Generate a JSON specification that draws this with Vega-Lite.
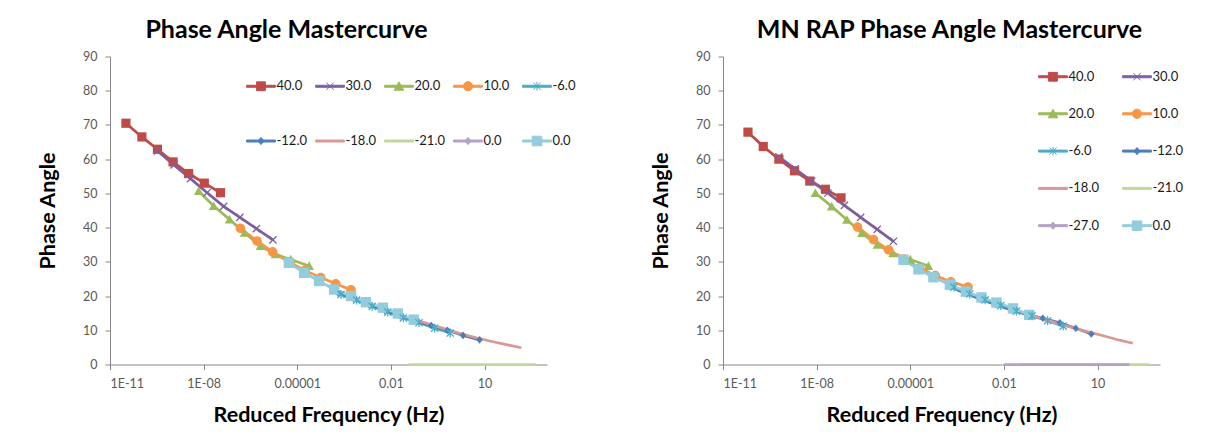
{
  "$schema": "https://vega.github.io/schema/vega-lite/v6.json",
  "padding": {"left": 37, "top": 17.5, "right": 0, "bottom": 0},
  "background": "white",
  "config": {
    "font": "Lato",
    "view": {"stroke": null},
    "axis": {"grid": false, "domainColor": "#868686", "tickColor": "#868686", "tickSize": 5, "labelColor": "#595959", "labelFontSize": 12.5, "labelFont": "Lato", "titleFont": "Lato", "titleFontSize": 21.5, "titleFontWeight": "bold", "titleColor": "#000000"},
    "title": {"font": "Lato", "fontSize": 25, "fontWeight": "bold", "color": "#000000"},
    "legend": {
      "title": null, "padding": 0, "symbolSize": 64, "symbolStrokeWidth": 1, "symbolOpacity": 1, "direction": "horizontal",
      "symbolOffset": 8.5, "labelOffset": 9, "gridAlign": "all", "labelFont": "Lato", "labelFontSize": 13, "labelColor": "#1a1a1a",
      "symbolType": {"expr": "datum.value==='40.0'?'M-3.6,-0.25H3.6V0.25H-3.6Z M-1.1,-1.1H1.1V1.1H-1.1Z':datum.value==='30.0'?'M-3.6,-0.25H3.6V0.25H-3.6Z M-0.9,-0.9L0.9,0.9M-0.9,0.9L0.9,-0.9':datum.value==='20.0'?'M-3.6,-0.25H3.6V0.25H-3.6Z M0,-1.1L1.2,1L-1.2,1Z':datum.value==='10.0'?'M-3.6,-0.25H3.6V0.25H-3.6Z M-1.15,0A1.15,1.15,0,1,1,1.15,0A1.15,1.15,0,1,1,-1.15,0Z':datum.value==='-6.0'?'M-3.6,-0.25H3.6V0.25H-3.6Z M-0.9,-0.9L0.9,0.9M-0.9,0.9L0.9,-0.9M0,-1.1L0,1.1':(datum.value==='-12.0'||datum.value==='-27.0'||datum.value==='0.0a')?'M-3.6,-0.25H3.6V0.25H-3.6Z M0,-0.9L0.75,0L0,0.9L-0.75,0Z':(datum.value==='0.0'||datum.value==='0.0b')?'M-3.6,-0.25H3.6V0.25H-3.6Z M-1.2,-1.2H1.2V1.2H-1.2Z':'M-3.6,-0.25H3.6V0.25H-3.6Z'"},
      "symbolStrokeColor": {"expr": "datum.value==='40.0'?'#BE4B48':datum.value==='30.0'?'#7D5FA0':datum.value==='20.0'?'#9BBB59':datum.value==='10.0'?'#F79646':datum.value==='-6.0'?'#4BACC6':datum.value==='-12.0'?'#4A7EBB':datum.value==='-18.0'?'#D99795':datum.value==='-21.0'?'#C3D69B':(datum.value==='-27.0'||datum.value==='0.0a')?'#B3A2C7':'#93CDDD'"},
      "symbolFillColor": {"expr": "datum.value==='40.0'?'#BE4B48':datum.value==='30.0'?'#7D5FA0':datum.value==='20.0'?'#9BBB59':datum.value==='10.0'?'#F79646':datum.value==='-6.0'?'#4BACC6':datum.value==='-12.0'?'#4A7EBB':datum.value==='-18.0'?'#D99795':datum.value==='-21.0'?'#C3D69B':(datum.value==='-27.0'||datum.value==='0.0a')?'#B3A2C7':'#93CDDD'"}
    }
  },
  "datasets": {
    "left": [
      {"s": "40.0", "f": 3.24e-11, "a": 70.5}, {"s": "40.0", "f": 1.05e-10, "a": 66.5}, {"s": "40.0", "f": 3.31e-10, "a": 62.9}, {"s": "40.0", "f": 1.05e-9, "a": 59.2}, {"s": "40.0", "f": 3.31e-9, "a": 55.8}, {"s": "40.0", "f": 1.05e-8, "a": 53.0}, {"s": "40.0", "f": 3.47e-8, "a": 50.2},
      {"s": "30.0", "f": 3.31e-10, "a": 62.4}, {"s": "30.0", "f": 1.12e-9, "a": 58.3}, {"s": "30.0", "f": 3.8e-9, "a": 54.3}, {"s": "30.0", "f": 1.29e-8, "a": 50.2}, {"s": "30.0", "f": 4.37e-8, "a": 46.2}, {"s": "30.0", "f": 1.45e-7, "a": 43.0}, {"s": "30.0", "f": 4.9e-7, "a": 39.7}, {"s": "30.0", "f": 1.66e-6, "a": 36.4},
      {"s": "20.0", "f": 6.92e-9, "a": 50.7}, {"s": "20.0", "f": 2.09e-8, "a": 46.3}, {"s": "20.0", "f": 6.76e-8, "a": 42.4}, {"s": "20.0", "f": 2.04e-7, "a": 38.5}, {"s": "20.0", "f": 6.61e-7, "a": 34.6}, {"s": "20.0", "f": 2.0e-6, "a": 32.2}, {"s": "20.0", "f": 6.17e-6, "a": 30.7}, {"s": "20.0", "f": 2.4e-5, "a": 28.8},
      {"s": "10.0", "f": 1.51e-7, "a": 39.8}, {"s": "10.0", "f": 5.13e-7, "a": 36.1}, {"s": "10.0", "f": 1.62e-6, "a": 32.9}, {"s": "10.0", "f": 5.25e-6, "a": 30.0}, {"s": "10.0", "f": 1.74e-5, "a": 27.5}, {"s": "10.0", "f": 5.62e-5, "a": 25.4}, {"s": "10.0", "f": 1.7e-4, "a": 23.6}, {"s": "10.0", "f": 5.25e-4, "a": 21.8},
      {"s": "-6.0", "f": 2.51e-4, "a": 20.5}, {"s": "-6.0", "f": 7.94e-4, "a": 18.8}, {"s": "-6.0", "f": 2.51e-3, "a": 17.0}, {"s": "-6.0", "f": 7.94e-3, "a": 15.3}, {"s": "-6.0", "f": 0.0251, "a": 13.6}, {"s": "-6.0", "f": 0.0794, "a": 12.2}, {"s": "-6.0", "f": 0.251, "a": 10.6}, {"s": "-6.0", "f": 0.794, "a": 9.2},
      {"s": "-12.0", "f": 2.0e-4, "a": 21.0}, {"s": "-12.0", "f": 6.31e-4, "a": 19.3}, {"s": "-12.0", "f": 2.0e-3, "a": 17.5}, {"s": "-12.0", "f": 6.31e-3, "a": 15.8}, {"s": "-12.0", "f": 0.02, "a": 14.2}, {"s": "-12.0", "f": 0.0617, "a": 12.8}, {"s": "-12.0", "f": 0.195, "a": 11.4}, {"s": "-12.0", "f": 0.646, "a": 10.0}, {"s": "-12.0", "f": 2.04, "a": 8.5}, {"s": "-12.0", "f": 6.92, "a": 7.2},
      {"s": "-18.0", "f": 0.0501, "a": 13.3}, {"s": "-18.0", "f": 0.158, "a": 11.9}, {"s": "-18.0", "f": 0.501, "a": 10.5}, {"s": "-18.0", "f": 1.58, "a": 9.1}, {"s": "-18.0", "f": 5.01, "a": 7.9}, {"s": "-18.0", "f": 15.8, "a": 6.8}, {"s": "-18.0", "f": 50.1, "a": 5.8}, {"s": "-18.0", "f": 151, "a": 4.9},
      {"s": "-21.0", "f": 0.037, "a": 0}, {"s": "-21.0", "f": 1, "a": 0}, {"s": "-21.0", "f": 437, "a": 0},
      {"s": "0.0b", "f": 5.37e-6, "a": 29.7}, {"s": "0.0b", "f": 1.66e-5, "a": 26.8}, {"s": "0.0b", "f": 5.01e-5, "a": 24.4}, {"s": "0.0b", "f": 1.51e-4, "a": 21.9}, {"s": "0.0b", "f": 5.25e-4, "a": 20.0}, {"s": "0.0b", "f": 1.58e-3, "a": 18.2}, {"s": "0.0b", "f": 5.5e-3, "a": 16.6}, {"s": "0.0b", "f": 0.0166, "a": 14.9}, {"s": "0.0b", "f": 0.0537, "a": 13.1}
    ],
    "right": [
      {"s": "40.0", "f": 6.31e-11, "a": 67.9}, {"s": "40.0", "f": 1.95e-10, "a": 63.7}, {"s": "40.0", "f": 6.17e-10, "a": 60.0}, {"s": "40.0", "f": 1.95e-9, "a": 56.6}, {"s": "40.0", "f": 6.03e-9, "a": 53.6}, {"s": "40.0", "f": 1.91e-8, "a": 51.2}, {"s": "40.0", "f": 6.03e-8, "a": 48.7},
      {"s": "30.0", "f": 6.17e-10, "a": 60.7}, {"s": "30.0", "f": 2.04e-9, "a": 57.2}, {"s": "30.0", "f": 6.92e-9, "a": 53.6}, {"s": "30.0", "f": 2.29e-8, "a": 50.1}, {"s": "30.0", "f": 7.76e-8, "a": 46.5}, {"s": "30.0", "f": 2.57e-7, "a": 43.0}, {"s": "30.0", "f": 8.71e-7, "a": 39.5}, {"s": "30.0", "f": 2.88e-6, "a": 36.0},
      {"s": "20.0", "f": 9.12e-9, "a": 50.1}, {"s": "20.0", "f": 3.02e-8, "a": 46.2}, {"s": "20.0", "f": 9.33e-8, "a": 42.3}, {"s": "20.0", "f": 2.82e-7, "a": 38.4}, {"s": "20.0", "f": 8.91e-7, "a": 35.0}, {"s": "20.0", "f": 2.82e-6, "a": 32.5}, {"s": "20.0", "f": 1.0e-5, "a": 30.7}, {"s": "20.0", "f": 3.8e-5, "a": 28.8},
      {"s": "10.0", "f": 2.04e-7, "a": 40.2}, {"s": "10.0", "f": 6.61e-7, "a": 36.5}, {"s": "10.0", "f": 2.0e-6, "a": 33.5}, {"s": "10.0", "f": 6.31e-6, "a": 30.8}, {"s": "10.0", "f": 2.0e-5, "a": 28.2}, {"s": "10.0", "f": 6.31e-5, "a": 26.0}, {"s": "10.0", "f": 2.0e-4, "a": 24.2}, {"s": "10.0", "f": 7.08e-4, "a": 22.6},
      {"s": "-6.0", "f": 2.51e-4, "a": 22.6}, {"s": "-6.0", "f": 7.94e-4, "a": 20.6}, {"s": "-6.0", "f": 2.51e-3, "a": 18.9}, {"s": "-6.0", "f": 7.94e-3, "a": 17.2}, {"s": "-6.0", "f": 0.0251, "a": 15.6}, {"s": "-6.0", "f": 0.0794, "a": 14.2}, {"s": "-6.0", "f": 0.251, "a": 12.8}, {"s": "-6.0", "f": 0.794, "a": 11.2},
      {"s": "-12.0", "f": 1.78e-4, "a": 22.8}, {"s": "-12.0", "f": 5.62e-4, "a": 20.8}, {"s": "-12.0", "f": 1.78e-3, "a": 19.1}, {"s": "-12.0", "f": 5.62e-3, "a": 17.5}, {"s": "-12.0", "f": 0.0178, "a": 15.9}, {"s": "-12.0", "f": 0.0562, "a": 14.6}, {"s": "-12.0", "f": 0.178, "a": 13.5}, {"s": "-12.0", "f": 0.617, "a": 12.2}, {"s": "-12.0", "f": 2.0, "a": 10.6}, {"s": "-12.0", "f": 6.31, "a": 8.9},
      {"s": "-18.0", "f": 0.0631, "a": 14.6}, {"s": "-18.0", "f": 0.2, "a": 13.2}, {"s": "-18.0", "f": 0.631, "a": 11.8}, {"s": "-18.0", "f": 2.0, "a": 10.5}, {"s": "-18.0", "f": 6.31, "a": 9.3}, {"s": "-18.0", "f": 20, "a": 8.1}, {"s": "-18.0", "f": 50.1, "a": 7.1}, {"s": "-18.0", "f": 135, "a": 6.2},
      {"s": "-21.0", "f": 0.037, "a": 0}, {"s": "-21.0", "f": 1, "a": 0}, {"s": "-21.0", "f": 437, "a": 0},
      {"s": "-27.0", "f": 0.01, "a": 0}, {"s": "-27.0", "f": 1, "a": 0}, {"s": "-27.0", "f": 105, "a": 0},
      {"s": "0.0", "f": 6.03e-6, "a": 30.6}, {"s": "0.0", "f": 1.82e-5, "a": 27.8}, {"s": "0.0", "f": 5.5e-5, "a": 25.5}, {"s": "0.0", "f": 1.86e-4, "a": 23.3}, {"s": "0.0", "f": 6.03e-4, "a": 21.3}, {"s": "0.0", "f": 1.91e-3, "a": 19.6}, {"s": "0.0", "f": 5.75e-3, "a": 18.1}, {"s": "0.0", "f": 0.0195, "a": 16.4}, {"s": "0.0", "f": 0.0646, "a": 14.5}
    ]
  },
  "bounds": "flush",
  "spacing": 176,
  "resolve": {"scale": {"color": "independent", "shape": "independent"}, "legend": {"color": "independent"}},
  "hconcat": [
    {
      "width": 437, "height": 308,
      "title": {"text": "Phase Angle Mastercurve", "dx": -42, "offset": 8},
      "data": {"name": "left"},
      "encoding": {
        "x": {"field": "f", "type": "quantitative", "scale": {"type": "log", "domain": [1e-11, 1000], "nice": false}, "axis": {"values": [1e-11, 1e-8, 1e-5, 0.01, 10], "labelExpr": "datum.value < 1e-10 ? '1E-11' : datum.value < 1e-7 ? '1E-08' : datum.value < 1e-4 ? '0.00001' : datum.value < 1 ? '0.01' : '10'", "title": "Reduced Frequency (Hz)", "labelPadding": 8, "titlePadding": 14}},
        "y": {"field": "a", "type": "quantitative", "scale": {"domain": [0, 90], "nice": false}, "axis": {"values": [0, 10, 20, 30, 40, 50, 60, 70, 80, 90], "title": "Phase Angle", "labelPadding": 8, "titlePadding": 23}}
      },
      "layer": [
        {
          "transform": [{"filter": "false"}],
          "mark": {"type": "point", "filled": true, "opacity": 1},
          "encoding": {
            "color": {"field": "s", "type": "nominal",
              "scale": {"domain": ["40.0", "30.0", "20.0", "10.0", "-6.0", "-12.0", "-18.0", "-21.0", "0.0a", "0.0b"], "range": ["#BE4B48", "#7D5FA0", "#9BBB59", "#F79646", "#4BACC6", "#4A7EBB", "#D99795", "#C3D69B", "#B3A2C7", "#93CDDD"]},
              "legend": {"orient": "none", "legendX": 136, "legendY": 23, "columns": 5, "rowPadding": 40, "columnPadding": 5, "labelExpr": "(datum.label==='0.0a'||datum.label==='0.0b')?'0.0':datum.label"}}
          }
        },
        {
          "mark": {"type": "line", "strokeWidth": 2.75},
          "encoding": {"color": {"field": "s", "type": "nominal"}}
        },
        {
          "transform": [{"filter": {"field": "s", "oneOf": ["40.0", "20.0", "10.0", "-12.0", "0.0b"]}}],
          "mark": {"type": "point", "filled": true, "opacity": 1, "size": 64},
          "encoding": {
            "color": {"field": "s", "type": "nominal"},
            "shape": {"field": "s", "type": "nominal", "legend": null,
              "scale": {"domain": ["40.0", "30.0", "20.0", "10.0", "-6.0", "-12.0", "0.0b"], "range": ["M-1.15,-1.15H1.15V1.15H-1.15Z", "M-0.9,-0.9L0.9,0.9M-0.9,0.9L0.9,-0.9", "M0,-1.15L1.2,1L-1.2,1Z", "M-1.2,0A1.2,1.2,0,1,1,1.2,0A1.2,1.2,0,1,1,-1.2,0Z", "M-0.9,-0.9L0.9,0.9M-0.9,0.9L0.9,-0.9M0,-1.1L0,1.1", "M0,-0.95L0.8,0L0,0.95L-0.8,0Z", "M-1.3,-1.3H1.3V1.3H-1.3Z"]}}
          }
        },
        {
          "transform": [{"filter": {"field": "s", "oneOf": ["30.0", "-6.0"]}}],
          "mark": {"type": "point", "filled": false, "opacity": 1, "size": 64, "strokeWidth": 1.3},
          "encoding": {
            "color": {"field": "s", "type": "nominal"},
            "shape": {"field": "s", "type": "nominal", "legend": null}
          }
        }
      ]
    },
    {
      "width": 437, "height": 308,
      "title": {"text": "MN RAP Phase Angle Mastercurve", "dx": 8, "offset": 8},
      "data": {"name": "right"},
      "encoding": {
        "x": {"field": "f", "type": "quantitative", "scale": {"type": "log", "domain": [1e-11, 1000], "nice": false}, "axis": {"values": [1e-11, 1e-8, 1e-5, 0.01, 10], "labelExpr": "datum.value < 1e-10 ? '1E-11' : datum.value < 1e-7 ? '1E-08' : datum.value < 1e-4 ? '0.00001' : datum.value < 1 ? '0.01' : '10'", "title": "Reduced Frequency (Hz)", "labelPadding": 8, "titlePadding": 14}},
        "y": {"field": "a", "type": "quantitative", "scale": {"domain": [0, 90], "nice": false}, "axis": {"values": [0, 10, 20, 30, 40, 50, 60, 70, 80, 90], "title": "Phase Angle", "labelPadding": 8, "titlePadding": 23}}
      },
      "layer": [
        {
          "transform": [{"filter": "false"}],
          "mark": {"type": "point", "filled": true, "opacity": 1},
          "encoding": {
            "color": {"field": "s", "type": "nominal",
              "scale": {"domain": ["40.0", "30.0", "20.0", "10.0", "-6.0", "-12.0", "-18.0", "-21.0", "-27.0", "0.0"], "range": ["#BE4B48", "#7D5FA0", "#9BBB59", "#F79646", "#4BACC6", "#4A7EBB", "#D99795", "#C3D69B", "#B3A2C7", "#93CDDD"]},
              "legend": {"orient": "none", "legendX": 315, "legendY": 13.5, "columns": 2, "rowPadding": 22.3, "columnPadding": 20}}
          }
        },
        {
          "mark": {"type": "line", "strokeWidth": 2.75},
          "encoding": {"color": {"field": "s", "type": "nominal"}}
        },
        {
          "transform": [{"filter": {"field": "s", "oneOf": ["40.0", "20.0", "10.0", "-12.0", "0.0"]}}],
          "mark": {"type": "point", "filled": true, "opacity": 1, "size": 64},
          "encoding": {
            "color": {"field": "s", "type": "nominal"},
            "shape": {"field": "s", "type": "nominal", "legend": null,
              "scale": {"domain": ["40.0", "30.0", "20.0", "10.0", "-6.0", "-12.0", "0.0"], "range": ["M-1.15,-1.15H1.15V1.15H-1.15Z", "M-0.9,-0.9L0.9,0.9M-0.9,0.9L0.9,-0.9", "M0,-1.15L1.2,1L-1.2,1Z", "M-1.2,0A1.2,1.2,0,1,1,1.2,0A1.2,1.2,0,1,1,-1.2,0Z", "M-0.9,-0.9L0.9,0.9M-0.9,0.9L0.9,-0.9M0,-1.1L0,1.1", "M0,-0.95L0.8,0L0,0.95L-0.8,0Z", "M-1.3,-1.3H1.3V1.3H-1.3Z"]}}
          }
        },
        {
          "transform": [{"filter": {"field": "s", "oneOf": ["30.0", "-6.0"]}}],
          "mark": {"type": "point", "filled": false, "opacity": 1, "size": 64, "strokeWidth": 1.3},
          "encoding": {
            "color": {"field": "s", "type": "nominal"},
            "shape": {"field": "s", "type": "nominal", "legend": null}
          }
        }
      ]
    }
  ]
}
